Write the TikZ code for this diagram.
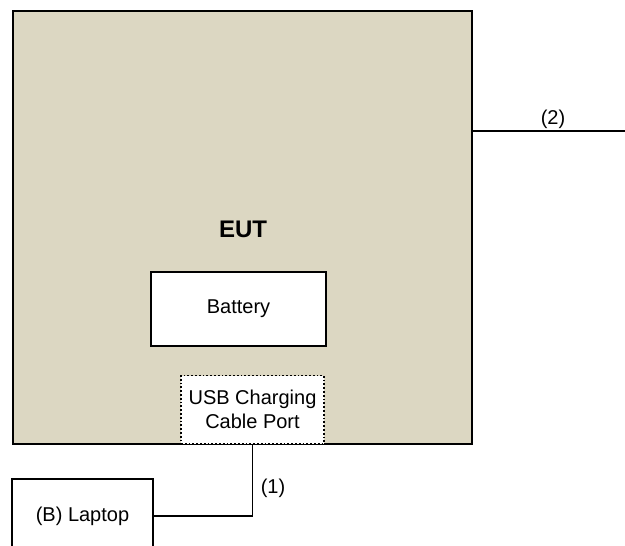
\documentclass[tikz,border=0pt]{standalone}
\usepackage{fontspec}
\setmainfont{Liberation Sans}
\definecolor{euttan}{RGB}{220,215,194}
\begin{document}
\begin{tikzpicture}[x=1pt,y=-1pt,
  box/.style={draw=black,line width=1.8pt,rectangle,inner sep=0pt,font=\fontsize{20}{23.5}\selectfont},
  lbl/.style={inner sep=0pt,font=\fontsize{20}{23.5}\selectfont},
  wire/.style={draw=black,line width=1.8pt}]
\useasboundingbox (0,0) rectangle (625,546);
\clip (0,0) rectangle (625,546);
\node[box,fill=euttan,minimum width=459pt,minimum height=433pt] (eut) at (242.5,227.5) {};
\node[lbl,font=\fontsize{24}{28}\selectfont\bfseries] (eutlabel) at (243,229) {EUT};
\node[box,fill=white,minimum width=175pt,minimum height=74pt] (battery) at (238.5,309) {Battery};
\node[box,fill=white,dotted,minimum width=143pt,minimum height=68pt,align=center] (usb) at (252.5,409.5) {USB Charging\\Cable Port};
\node[box,fill=white,minimum width=141pt,minimum height=74pt] (laptop) at (82.5,516) {(B) Laptop};
\coordinate (aux) at (625,131);
\draw[wire] (usb.south) |- (laptop.east);
\draw[wire] (eut.east |- aux) -- (aux);
\node[lbl] (l1) at (273,488) {(1)};
\node[lbl] (l2) at (553,119) {(2)};
\end{tikzpicture}
\end{document}
